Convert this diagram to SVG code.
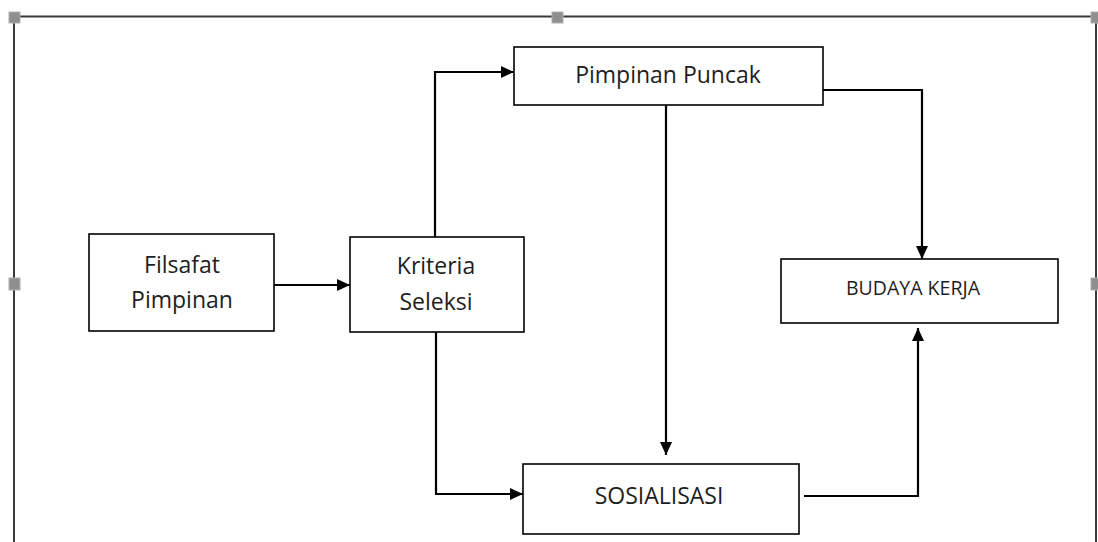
<svg xmlns="http://www.w3.org/2000/svg" width="1098" height="542" viewBox="0 0 1098 542">
<style>
.frame{fill:none;stroke:#3a3a3a;stroke-width:2}
.handle{fill:#8f8f8f;stroke:#b0b0b0;stroke-width:1}
.box{fill:#fff;stroke:#000;stroke-width:1.6}
.conn{fill:none;stroke:#000;stroke-width:2.2}
text{font-family:"Open Sans","Noto Sans",sans-serif;fill:#1e1e1e;text-anchor:middle}
.t{font-size:23px}
.s{font-size:19.5px}
</style>
<defs>
<marker id="ah" viewBox="0 0 13 12" refX="13" refY="6" markerWidth="13" markerHeight="12" markerUnits="userSpaceOnUse" orient="auto">
<path d="M0,0 L13,6 L0,12 Z" fill="#000"/>
</marker>
</defs>
<g id="frame">
<path class="frame" d="M14,542 V16.5 H1096 V542"/>
<rect class="handle" x="9" y="12" width="11" height="11"/>
<rect class="handle" x="552" y="12" width="11" height="11"/>
<rect class="handle" x="1091" y="12" width="11" height="11"/>
<rect class="handle" x="9" y="278" width="11" height="12"/>
<rect class="handle" x="1091" y="278" width="11" height="12"/>
</g>
<g id="connectors">
<path class="conn" d="M274,285 H350" marker-end="url(#ah)"/>
<path class="conn" d="M435,237 V72 H514" marker-end="url(#ah)"/>
<path class="conn" d="M436,332 V494 H523" marker-end="url(#ah)"/>
<path class="conn" d="M666,105 V455"  marker-end="url(#ah)"/>
<path class="conn" d="M823,90 H922 V259" marker-end="url(#ah)"/>
<path class="conn" d="M804,496 H918 V328" marker-end="url(#ah)"/>
</g>
<g id="node-filsafat">
<rect class="box" x="89" y="234" width="185" height="97"/>
<text class="t" x="182" y="273">Filsafat</text>
<text class="t" x="182" y="308">Pimpinan</text>
</g>
<g id="node-kriteria">
<rect class="box" x="350" y="237" width="174" height="95"/>
<text class="t" x="436" y="274">Kriteria</text>
<text class="t" x="436" y="310">Seleksi</text>
</g>
<g id="node-pimpinan-puncak">
<rect class="box" x="514" y="47" width="309" height="58"/>
<text class="t" x="668" y="83">Pimpinan Puncak</text>
</g>
<g id="node-budaya-kerja">
<rect class="box" x="781" y="259" width="277" height="64"/>
<text class="s" x="913" y="295">BUDAYA KERJA</text>
</g>
<g id="node-sosialisasi">
<rect class="box" x="523" y="464" width="276" height="70"/>
<text class="t" x="659" y="504">SOSIALISASI</text>
</g>
</svg>
